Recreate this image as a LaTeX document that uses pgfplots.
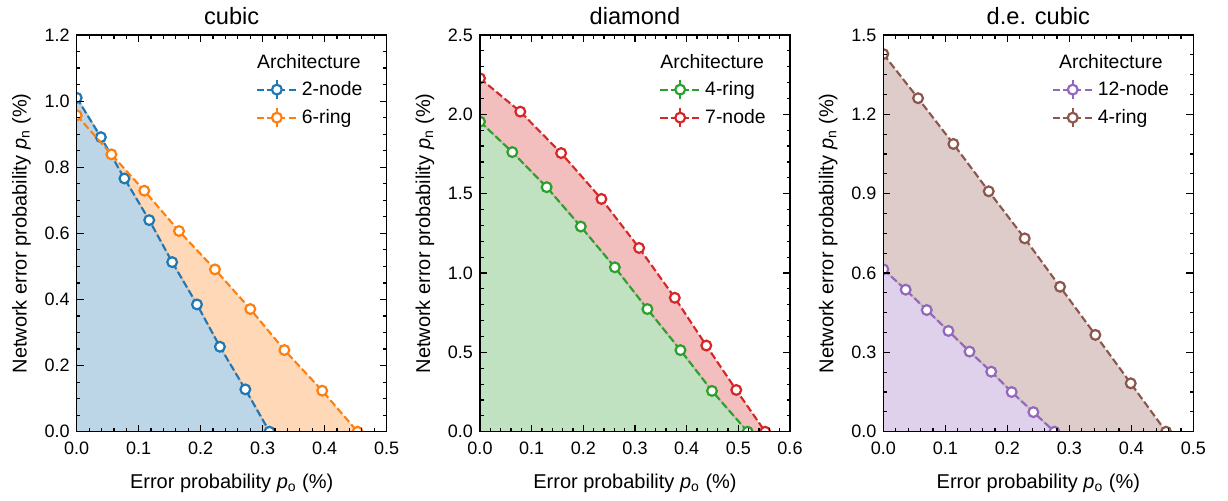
\documentclass[border=0pt]{standalone}
\usepackage{pgfplots}
\pgfplotsset{compat=1.18}
\usepackage{fontspec}
\setmainfont{Liberation Sans}
\definecolor{tblue}{RGB}{31,119,180}
\definecolor{torange}{RGB}{255,127,14}
\definecolor{tgreen}{RGB}{44,160,44}
\definecolor{tred}{RGB}{214,39,40}
\definecolor{tpurple}{RGB}{148,103,189}
\definecolor{tbrown}{RGB}{140,86,75}
\pgfplotsset{
  panel/.style={
    scale only axis, width=155pt, height=198.35pt,
    axis on top, clip marker paths=true,
    xmin=0, ymin=0,
    xtick distance=0.1, minor x tick num=4,
    tick align=inside, xtick pos=both, ytick pos=both,
    major tick length=3.5pt, minor tick length=1.75pt,
    every tick/.style={black, line width=0.6pt},
    axis line style={line width=0.7pt},
    /pgf/number format/assume math mode=true,
    /pgf/number format/.cd, fixed, fixed zerofill, precision=1, /pgfplots/.cd,
    ticklabel style={font=\fontsize{9}{10}\selectfont},
    xticklabel style={yshift=-1.5pt},
    label style={font=\fontsize{10}{12}\selectfont},
    xlabel={Error probability \textit{p}\textsubscript{o} (\%)},
    ylabel={Network error probability \textit{p}\textsubscript{n} (\%)},
    xlabel style={yshift=-3pt},
    every axis title shift=0pt,
    title style={font=\fontsize{11.8}{13}\selectfont, at={(0.5,1)}, anchor=south, yshift=1.8pt},
    legend style={draw=none, fill=none, anchor=north east, font=\fontsize{9.7}{11}\selectfont,
      row sep=1.5pt, /tikz/every even column/.append style={column sep=2pt}},
    legend cell align=left,
    legend image code/.code={
      \draw[##1, mark=none] (0pt,0pt) -- (20pt,0pt);
      \draw[##1, solid, mark=none] (10pt,-4.7pt) -- (10pt,4.7pt);
      \draw[##1, solid] plot[only marks] coordinates {(10pt,0pt)};
    },
  },
  ser/.style={color=#1, line width=1.05pt, dash pattern=on 3.7pt off 1.6pt,
    mark=*, mark size=2.45pt, mark options={solid, fill=white, line width=1.1pt}},
  fillup/.style={fill=#1!30!white, draw=none, forget plot},
}
\begin{document}
\begin{tikzpicture}
\useasboundingbox (0,0) rectangle (614pt,250pt);
% ---------------- cubic
\begin{axis}[panel, at={(38.35pt,34.15pt)}, anchor=south west,
  xmax=0.5, ymax=1.2, ytick distance=0.2, minor y tick num=3, title={cubic},
  legend style={at={(rel axis cs:0.955,0.905)}}]
\addplot[fillup=torange] coordinates {(0,0.957) (0.056,0.839) (0.109,0.729) (0.165,0.607) (0.223,0.491) (0.280,0.371) (0.335,0.247) (0.396,0.124) (0.453,0)} \closedcycle;
\addplot[fillup=tblue] coordinates {(0,1.010) (0.039,0.891) (0.077,0.766) (0.117,0.640) (0.154,0.513) (0.194,0.385) (0.231,0.257) (0.272,0.128) (0.311,0)} \closedcycle;
\addplot[forget plot, color=tblue!30!white!50!torange!30!white!85!black, line width=1pt] coordinates {(0,1.010) (0.039,0.891) (0.077,0.766) (0.117,0.640) (0.154,0.513) (0.194,0.385) (0.231,0.257) (0.272,0.128) (0.311,0)};
\addplot[ser=tblue] coordinates {(0,1.010) (0.039,0.891) (0.077,0.766) (0.117,0.640) (0.154,0.513) (0.194,0.385) (0.231,0.257) (0.272,0.128) (0.311,0)};
\addlegendentry{2-node}
\addplot[ser=torange] coordinates {(0,0.957) (0.056,0.839) (0.109,0.729) (0.165,0.607) (0.223,0.491) (0.280,0.371) (0.335,0.247) (0.396,0.124) (0.453,0)};
\addlegendentry{6-ring}
\node[font=\fontsize{9.7}{11}\selectfont] at (rel axis cs:0.749,0.932) {Architecture};
\end{axis}
% ---------------- diamond
\begin{axis}[panel, at={(240pt,34.15pt)}, anchor=south west,
  xmax=0.6, ymax=2.5, ytick distance=0.5, minor y tick num=4, title={diamond},
  legend style={at={(rel axis cs:0.955,0.905)}}]
\addplot[fillup=tred] coordinates {(0,2.227) (0.078,2.017) (0.157,1.756) (0.235,1.467) (0.308,1.158) (0.377,0.844) (0.438,0.543) (0.496,0.263) (0.552,0)} \closedcycle;
\addplot[fillup=tgreen] coordinates {(0,1.954) (0.0625,1.762) (0.129,1.541) (0.195,1.293) (0.261,1.036) (0.324,0.773) (0.388,0.514) (0.449,0.257) (0.518,0)} \closedcycle;
\addplot[forget plot, color=tgreen!30!white!50!tred!30!white!85!black, line width=1pt] coordinates {(0,1.954) (0.0625,1.762) (0.129,1.541) (0.195,1.293) (0.261,1.036) (0.324,0.773) (0.388,0.514) (0.449,0.257) (0.518,0)};
\addplot[ser=tgreen] coordinates {(0,1.954) (0.0625,1.762) (0.129,1.541) (0.195,1.293) (0.261,1.036) (0.324,0.773) (0.388,0.514) (0.449,0.257) (0.518,0)};
\addlegendentry{4-ring}
\addplot[ser=tred] coordinates {(0,2.227) (0.078,2.017) (0.157,1.756) (0.235,1.467) (0.308,1.158) (0.377,0.844) (0.438,0.543) (0.496,0.263) (0.552,0)};
\addlegendentry{7-node}
\node[font=\fontsize{9.7}{11}\selectfont] at (rel axis cs:0.749,0.932) {Architecture};
\end{axis}
% ---------------- d.e. cubic
\begin{axis}[panel, at={(441.67pt,34.15pt)}, anchor=south west,
  xmax=0.5, ymax=1.5, ytick distance=0.3, minor y tick num=3, title={d.e. cubic},
  legend style={at={(rel axis cs:0.955,0.905)}}]
\addplot[fillup=tbrown] coordinates {(0,1.428) (0.056,1.261) (0.113,1.088) (0.170,0.909) (0.228,0.731) (0.285,0.548) (0.342,0.366) (0.399,0.183) (0.456,0)} \closedcycle;
\addplot[fillup=tpurple] coordinates {(0,0.614) (0.036,0.537) (0.070,0.460) (0.105,0.381) (0.139,0.303) (0.174,0.227) (0.207,0.150) (0.242,0.074) (0.276,0)} \closedcycle;
\addplot[forget plot, color=tpurple!30!white!50!tbrown!30!white!85!black, line width=1pt] coordinates {(0,0.614) (0.036,0.537) (0.070,0.460) (0.105,0.381) (0.139,0.303) (0.174,0.227) (0.207,0.150) (0.242,0.074) (0.276,0)};
\addplot[ser=tpurple] coordinates {(0,0.614) (0.036,0.537) (0.070,0.460) (0.105,0.381) (0.139,0.303) (0.174,0.227) (0.207,0.150) (0.242,0.074) (0.276,0)};
\addlegendentry{12-node}
\addplot[ser=tbrown] coordinates {(0,1.428) (0.056,1.261) (0.113,1.088) (0.170,0.909) (0.228,0.731) (0.285,0.548) (0.342,0.366) (0.399,0.183) (0.456,0)};
\addlegendentry{4-ring}
\node[font=\fontsize{9.7}{11}\selectfont] at (rel axis cs:0.734,0.932) {Architecture};
\end{axis}
\end{tikzpicture}
\end{document}
